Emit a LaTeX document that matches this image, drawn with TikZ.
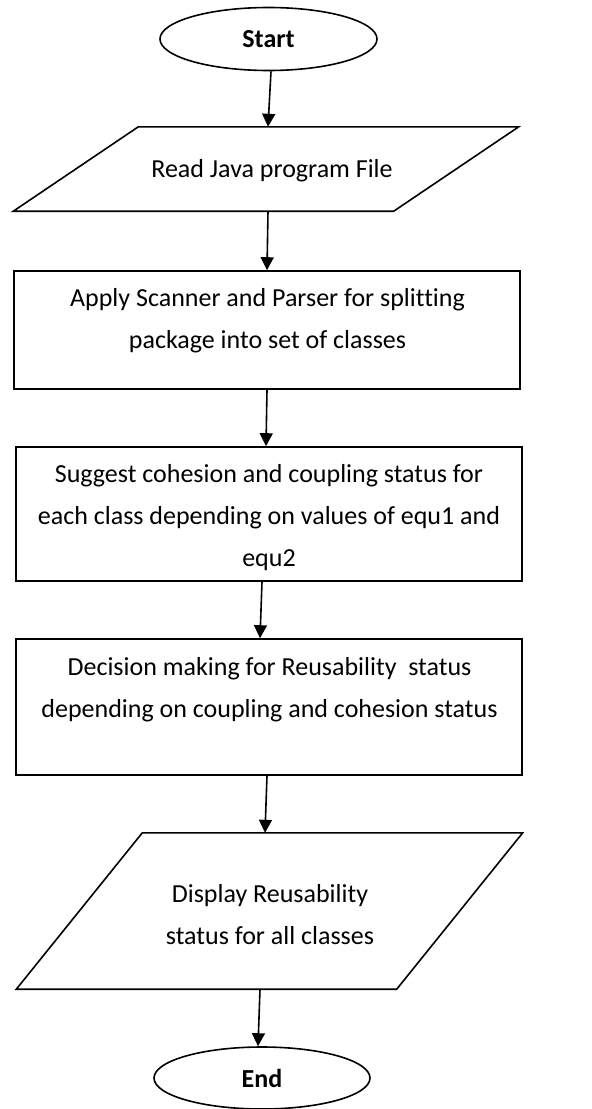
\documentclass[tikz,border=0pt]{standalone}
\usepackage{fontspec}
\setmainfont[Ligatures=NoCommon]{Carlito}
\usetikzlibrary{shapes.geometric,arrows.meta}

\tikzset{
  line/.style={line width=1.6pt},
  flow/.style={line, -{Triangle[length=13pt,width=13pt]}},
  term/.style={ellipse, draw, line, minimum width=217pt, minimum height=63pt,
    inner sep=0pt, font=\fontsize{26}{42}\selectfont\bfseries},
  procbox/.style={rectangle, draw, line, minimum width=506pt, inner sep=0pt},
  iobox/.style={rectangle, minimum width=380pt, inner sep=0pt},
  txt/.style={align=center, inner sep=0pt, font=\fontsize{26}{42}\selectfont}
}

\begin{document}
\begin{tikzpicture}[x=1pt,y=-1pt]
\useasboundingbox (0,0) rectangle (592,1109);

% terminals, process boxes and input/output frames
\node[term] (start) at (268.5,39) {Start};

\node[iobox, minimum height=84pt] (read) at (266,169) {};
\draw[line] ([xshift=62.5pt]read.north west) -- ([xshift=62.5pt]read.north east)
  -- ([xshift=-62.5pt]read.south east) -- ([xshift=-62.5pt]read.south west) -- cycle;
\node[txt] (readtext) at (272,171) {Read Java program File};

\node[procbox, minimum height=118pt] (apply) at (267,330) {};
\node[txt] (applytext) at (267.5,321) {Apply Scanner and Parser for splitting\\package into set of classes};

\node[procbox, minimum height=134pt] (suggest) at (269,514) {};
\node[txt] (suggesttext) at (269,518) {Suggest cohesion and coupling status for\\each class depending on values of equ1 and\\equ2};

\node[procbox, minimum height=136pt] (decide) at (269,707) {};
\node[txt] (decidetext) at (269.5,689.5) {Decision making for Reusability~ status\\depending on coupling and cohesion status};

\node[iobox, minimum height=156pt] (display) at (269.5,911) {};
\draw[line] ([xshift=63pt]display.north west) -- ([xshift=63pt]display.north east)
  -- ([xshift=-63pt]display.south east) -- ([xshift=-63pt]display.south west) -- cycle;
\node[txt] (displaytext) at (270,915) {Display Reusability\\status for all classes};

\node[term, minimum width=216pt, minimum height=62pt] (end) at (262,1078) {End};

% connectors
\draw[flow] ([xshift=2.5pt]start.south) -- ([xshift=2pt]read.north);
\draw[flow] ([xshift=2pt]read.south) -- (apply.north);
\draw[flow] (apply.south) -- ([xshift=-3pt]suggest.north);
\draw[flow] ([xshift=-7pt]suggest.south) -- ([xshift=-9pt]decide.north);
\draw[flow] ([xshift=-2pt]decide.south) -- ([xshift=-4.5pt]display.north);
\draw[flow] ([xshift=-9.5pt]display.south) -- ([xshift=-4pt]end.north);
\end{tikzpicture}
\end{document}
